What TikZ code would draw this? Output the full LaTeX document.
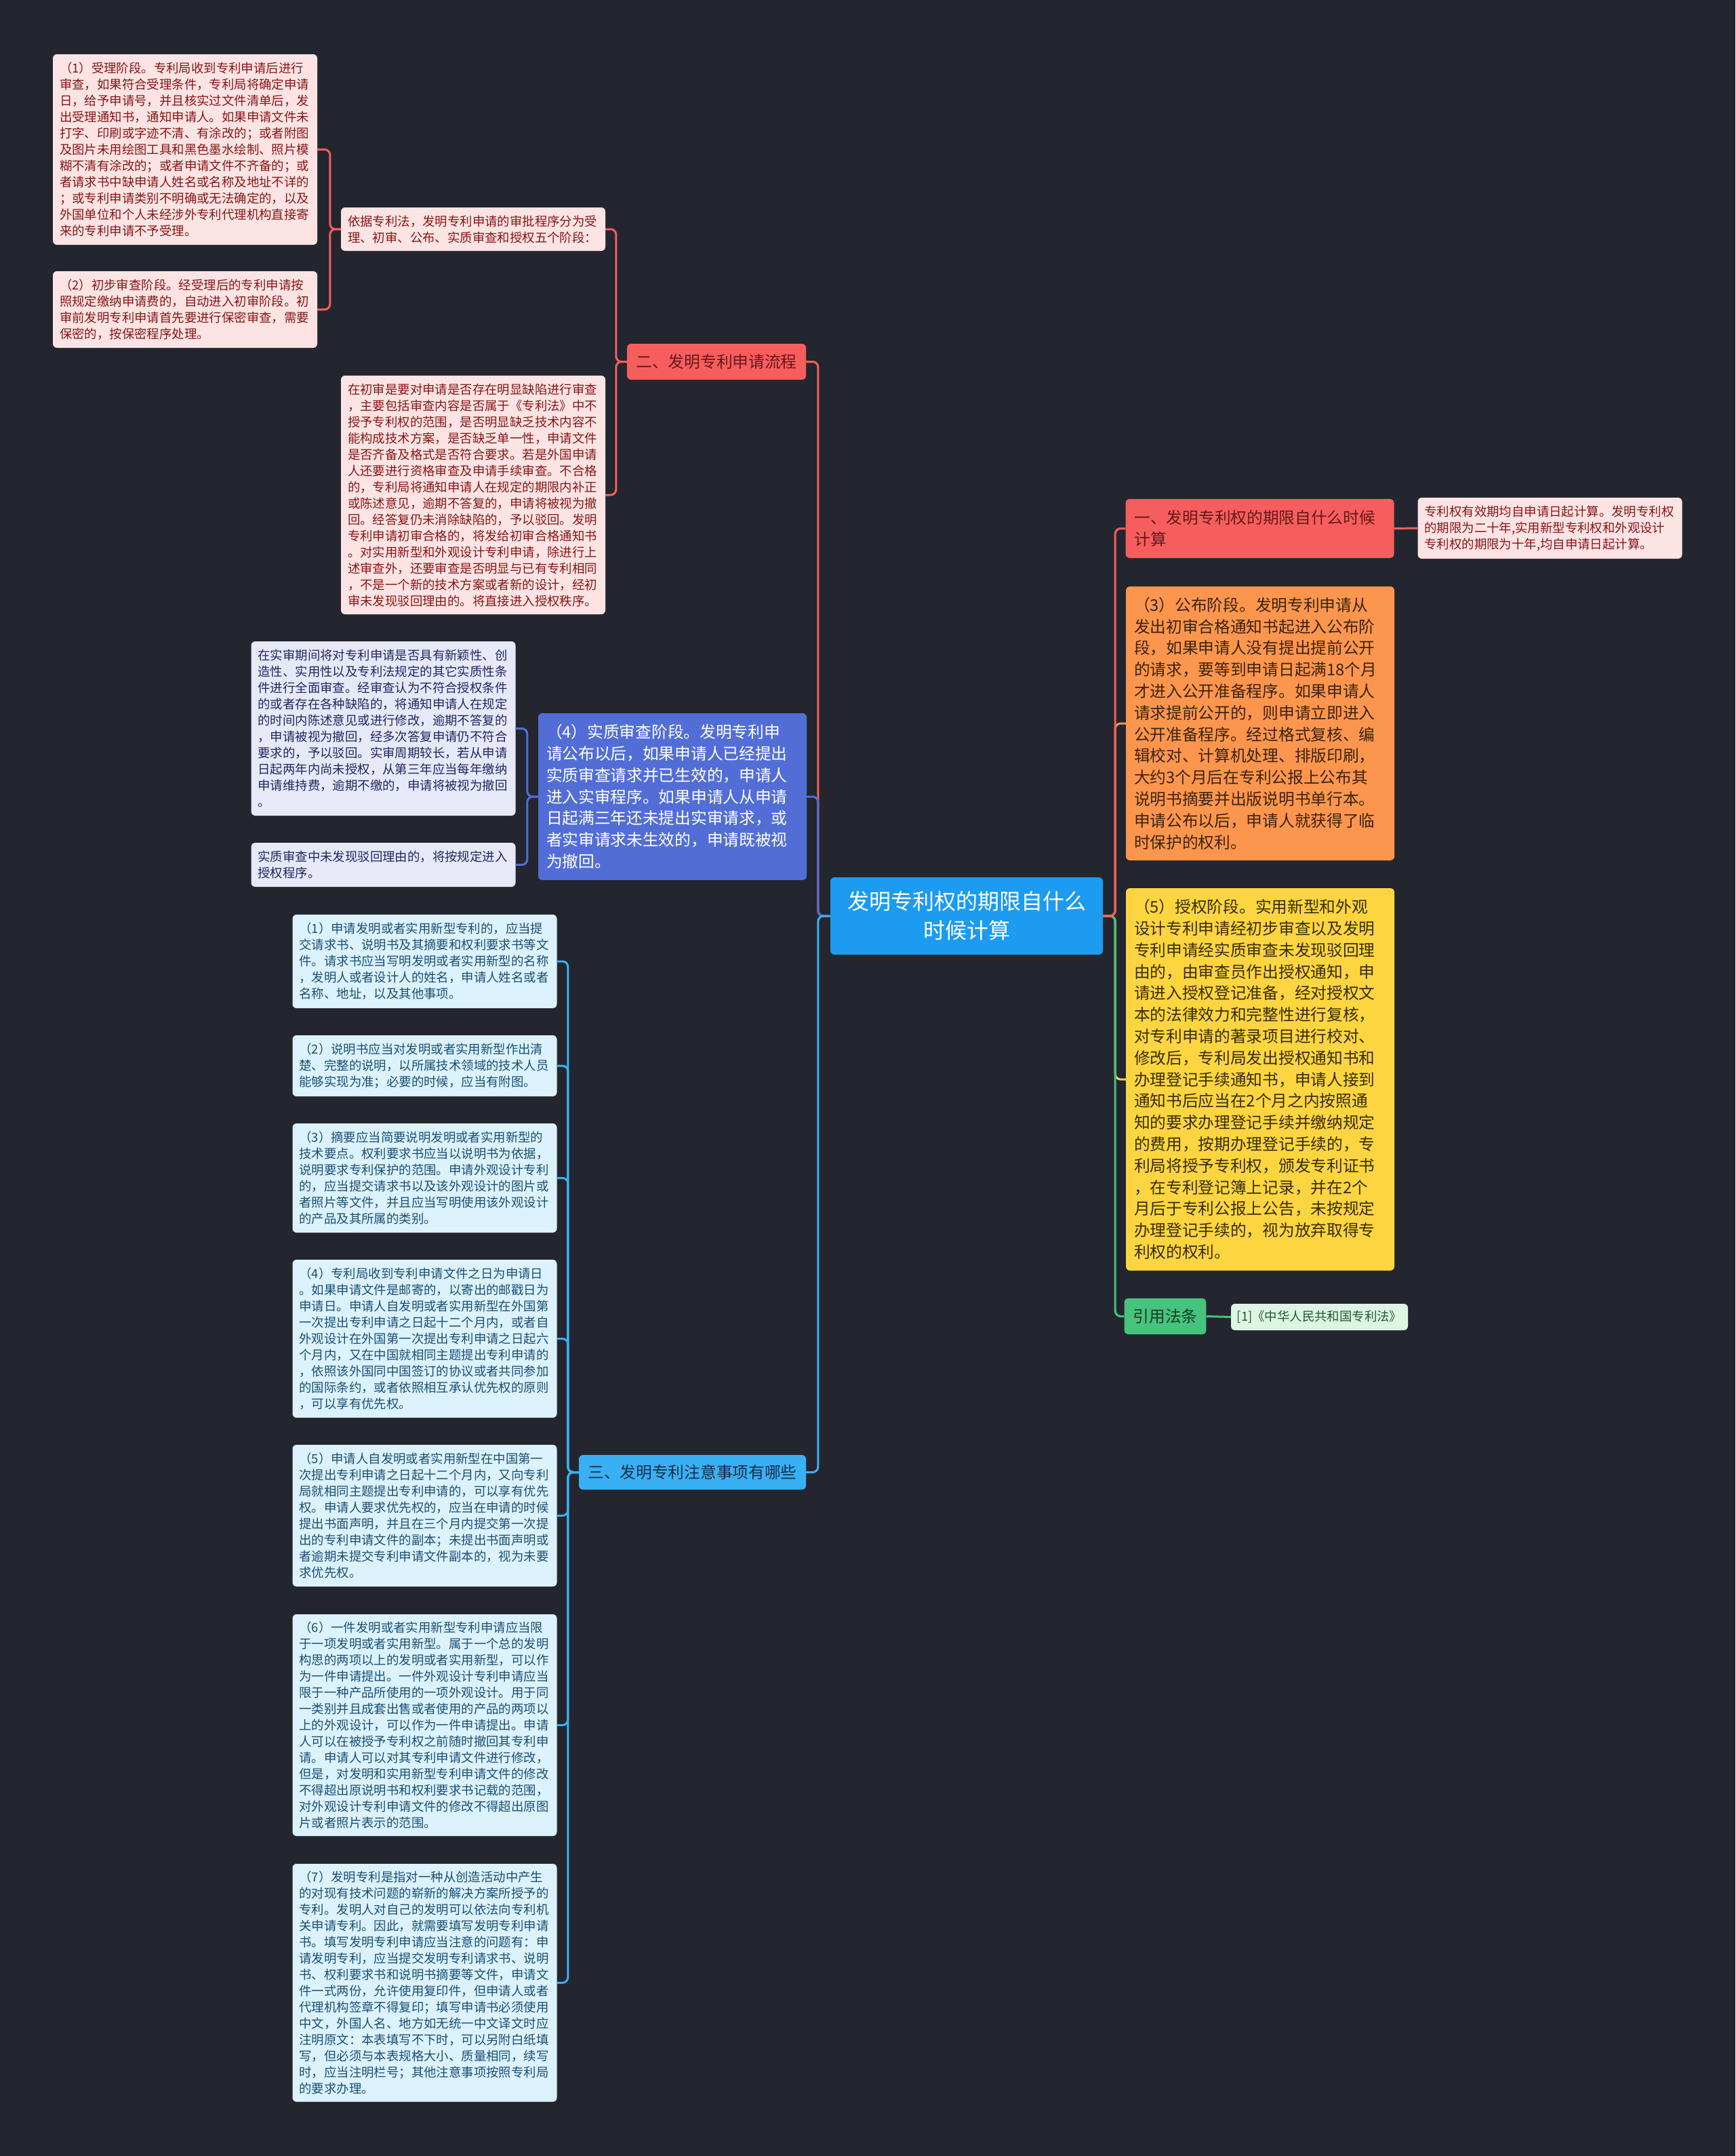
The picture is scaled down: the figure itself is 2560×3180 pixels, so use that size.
\documentclass[tikz,border=0pt]{standalone}
\usepackage{fontspec}
\setmainfont{Noto Sans CJK SC}
\usepackage{tikz}
\usetikzlibrary{positioning}
\definecolor{bgdark}{RGB}{35,38,47}
\definecolor{cmain}{RGB}{28,155,240}
\definecolor{cred}{RGB}{246,94,94}
\definecolor{credhead}{RGB}{100,25,25}
\definecolor{credleaf}{RGB}{253,228,228}
\definecolor{credtxt}{RGB}{135,22,22}
\definecolor{corange}{RGB}{252,150,78}
\definecolor{coratxt}{RGB}{60,35,12}
\definecolor{cyellow}{RGB}{253,213,65}
\definecolor{cyeltxt}{RGB}{55,45,0}
\definecolor{cgreen}{RGB}{70,195,125}
\definecolor{cgrntxt}{RGB}{20,60,35}
\definecolor{cgrnleaf}{RGB}{222,245,228}
\definecolor{cgrnleaftxt}{RGB}{30,90,50}
\definecolor{cblue}{RGB}{82,110,214}
\definecolor{cblueleaf}{RGB}{231,233,248}
\definecolor{cbluetxt}{RGB}{30,40,95}
\definecolor{csky}{RGB}{56,176,243}
\definecolor{cskytxt}{RGB}{20,45,75}
\definecolor{cskyleaf}{RGB}{220,242,253}
\definecolor{cskyleaftxt}{RGB}{25,80,115}
\tikzset{
  box/.style={rounded corners=6pt, align=left, inner ysep=0pt},
  leafbox/.style={box, text width=370pt, inner xsep=10pt, font=\fontsize{18.4}{24}\selectfont},
  bigbox/.style={box, text width=372pt, inner xsep=12pt, font=\fontsize{23.7}{31.8}\selectfont},
  headbox/.style={box, inner xsep=13pt, font=\fontsize{23.7}{31.8}\selectfont},
  link/.style={line width=3pt, rounded corners=8pt},
  redleaf/.style={leafbox, fill=credleaf, text=credtxt},
  blueleaf/.style={leafbox, fill=cblueleaf, text=cbluetxt},
  skyleaf/.style={leafbox, fill=cskyleaf, text=cskyleaftxt},
}

\begin{document}
\begin{tikzpicture}[x=1pt, y=-1pt]
  \useasboundingbox (0,0) rectangle (2560,3180);
  \fill[bgdark] (0,0) rectangle (2560,3180);
  % root
  \node[box, fill=cmain, text=white, align=center, minimum width=402, minimum height=114,
    font=\fontsize{32}{43}\selectfont] (ctr) at (1426,1351) {发明专利权的期限自什么\\时候计算};
  % branch: 二、发明专利申请流程
  \node[headbox, fill=cred, text=credhead, minimum width=264, minimum height=53] (apply) at (1057,533.5) {二、发明专利申请流程};
  \node[redleaf, minimum height=64] (stages) at (698,338)
    {依据专利法，发明专利申请的审批程序分为受\\理、初审、公布、实质审查和授权五个阶段：};
  \node[redleaf, minimum height=281] (accept) at (273,220.5)
    {（1）受理阶段。专利局收到专利申请后进行\\审查，如果符合受理条件，专利局将确定申请\\日，给予申请号，并且核实过文件清单后，发\\出受理通知书，通知申请人。如果申请文件未\\打字、印刷或字迹不清、有涂改的；或者附图\\及图片未用绘图工具和黑色墨水绘制、照片模\\糊不清有涂改的；或者申请文件不齐备的；或\\者请求书中缺申请人姓名或名称及地址不详的\\；或专利申请类别不明确或无法确定的，以及\\外国单位和个人未经涉外专利代理机构直接寄\\来的专利申请不予受理。};
  \node[redleaf, minimum height=113] (prelim) at (273,456.5)
    {（2）初步审查阶段。经受理后的专利申请按\\照规定缴纳申请费的，自动进入初审阶段。初\\审前发明专利申请首先要进行保密审查，需要\\保密的，按保密程序处理。};
  \node[redleaf, minimum height=352] (firstcheck) at (698,730)
    {在初审是要对申请是否存在明显缺陷进行审查\\，主要包括审查内容是否属于《专利法》中不\\授予专利权的范围，是否明显缺乏技术内容不\\能构成技术方案，是否缺乏单一性，申请文件\\是否齐备及格式是否符合要求。若是外国申请\\人还要进行资格审查及申请手续审查。不合格\\的，专利局将通知申请人在规定的期限内补正\\或陈述意见，逾期不答复的，申请将被视为撤\\回。经答复仍未消除缺陷的，予以驳回。发明\\专利申请初审合格的，将发给初审合格通知书\\。对实用新型和外观设计专利申请，除进行上\\述审查外，还要审查是否明显与已有专利相同\\，不是一个新的技术方案或者新的设计，经初\\审未发现驳回理由的。将直接进入授权秩序。};
  % branch: (4) substantive examination
  \node[bigbox, fill=cblue, text=white, minimum height=246] (subst) at (992,1175)
    {（4）实质审查阶段。发明专利申\\请公布以后，如果申请人已经提出\\实质审查请求并已生效的，申请人\\进入实审程序。如果申请人从申请\\日起满三年还未提出实审请求，或\\者实审请求未生效的，申请既被视\\为撤回。};
  \node[blueleaf, minimum height=257] (substlong) at (565.5,1074.5)
    {在实审期间将对专利申请是否具有新颖性、创\\造性、实用性以及专利法规定的其它实质性条\\件进行全面审查。经审查认为不符合授权条件\\的或者存在各种缺陷的，将通知申请人在规定\\的时间内陈述意见或进行修改，逾期不答复的\\，申请被视为撤回，经多次答复申请仍不符合\\要求的，予以驳回。实审周期较长，若从申请\\日起两年内尚未授权，从第三年应当每年缴纳\\申请维持费，逾期不缴的，申请将被视为撤回\\。};
  \node[blueleaf, minimum height=65] (substok) at (565.5,1275.5)
    {实质审查中未发现驳回理由的，将按规定进入\\授权程序。};
  % branch: 三、发明专利注意事项有哪些
  \node[headbox, fill=csky, text=cskytxt, minimum width=335, minimum height=51] (notes) at (1021.5,2171.5) {三、发明专利注意事项有哪些};
  \node[skyleaf, minimum height=138] (note1) at (626.5,1418)
    {（1）申请发明或者实用新型专利的，应当提\\交请求书、说明书及其摘要和权利要求书等文\\件。请求书应当写明发明或者实用新型的名称\\，发明人或者设计人的姓名，申请人姓名或者\\名称、地址，以及其他事项。};
  \node[skyleaf, minimum height=90] (note2) at (626.5,1572)
    {（2）说明书应当对发明或者实用新型作出清\\楚、完整的说明，以所属技术领域的技术人员\\能够实现为准；必要的时候，应当有附图。};
  \node[skyleaf, minimum height=161] (note3) at (626.5,1737.5)
    {（3）摘要应当简要说明发明或者实用新型的\\技术要点。权利要求书应当以说明书为依据，\\说明要求专利保护的范围。申请外观设计专利\\的，应当提交请求书以及该外观设计的图片或\\者照片等文件，并且应当写明使用该外观设计\\的产品及其所属的类别。};
  \node[skyleaf, minimum height=233] (note4) at (626.5,1974.5)
    {（4）专利局收到专利申请文件之日为申请日\\。如果申请文件是邮寄的，以寄出的邮戳日为\\申请日。申请人自发明或者实用新型在外国第\\一次提出专利申请之日起十二个月内，或者自\\外观设计在外国第一次提出专利申请之日起六\\个月内，又在中国就相同主题提出专利申请的\\，依照该外国同中国签订的协议或者共同参加\\的国际条约，或者依照相互承认优先权的原则\\，可以享有优先权。};
  \node[skyleaf, minimum height=209] (note5) at (626.5,2235.5)
    {（5）申请人自发明或者实用新型在中国第一\\次提出专利申请之日起十二个月内，又向专利\\局就相同主题提出专利申请的，可以享有优先\\权。申请人要求优先权的，应当在申请的时候\\提出书面声明，并且在三个月内提交第一次提\\出的专利申请文件的副本；未提出书面声明或\\者逾期未提交专利申请文件副本的，视为未要\\求优先权。};
  \node[skyleaf, minimum height=327] (note6) at (626.5,2544.5)
    {（6）一件发明或者实用新型专利申请应当限\\于一项发明或者实用新型。属于一个总的发明\\构思的两项以上的发明或者实用新型，可以作\\为一件申请提出。一件外观设计专利申请应当\\限于一种产品所使用的一项外观设计。用于同\\一类别并且成套出售或者使用的产品的两项以\\上的外观设计，可以作为一件申请提出。申请\\人可以在被授予专利权之前随时撤回其专利申\\请。申请人可以对其专利申请文件进行修改，\\但是，对发明和实用新型专利申请文件的修改\\不得超出原说明书和权利要求书记载的范围，\\对外观设计专利申请文件的修改不得超出原图\\片或者照片表示的范围。};
  \node[skyleaf, minimum height=351] (note7) at (626.5,2924.5)
    {（7）发明专利是指对一种从创造活动中产生\\的对现有技术问题的崭新的解决方案所授予的\\专利。发明人对自己的发明可以依法向专利机\\关申请专利。因此，就需要填写发明专利申请\\书。填写发明专利申请应当注意的问题有：申\\请发明专利，应当提交发明专利请求书、说明\\书、权利要求书和说明书摘要等文件，申请文\\件一式两份，允许使用复印件，但申请人或者\\代理机构签章不得复印；填写申请书必须使用\\中文，外国人名、地方如无统一中文译文时应\\注明原文：本表填写不下时，可以另附白纸填\\写，但必须与本表规格大小、质量相同，续写\\时，应当注明栏号；其他注意事项按照专利局\\的要求办理。};
  % right side
  \node[headbox, text width=370pt, fill=cred, text=credhead, minimum height=87] (term) at (1858.5,779.5)
    {一、发明专利权的期限自什么时候\\计算};
  \node[redleaf, minimum height=90] (termleaf) at (2286.5,779)
    {专利权有效期均自申请日起计算。发明专利权\\的期限为二十年,实用新型专利权和外观设计\\专利权的期限为十年,均自申请日起计算。};
  \node[bigbox, fill=corange, text=coratxt, minimum height=404] (publish) at (1859,1067)
    {（3）公布阶段。发明专利申请从\\发出初审合格通知书起进入公布阶\\段，如果申请人没有提出提前公开\\的请求，要等到申请日起满18个月\\才进入公开准备程序。如果申请人\\请求提前公开的，则申请立即进入\\公开准备程序。经过格式复核、编\\辑校对、计算机处理、排版印刷，\\大约3个月后在专利公报上公布其\\说明书摘要并出版说明书单行本。\\申请公布以后，申请人就获得了临\\时保护的权利。};
  \node[bigbox, fill=cyellow, text=cyeltxt, minimum height=564] (grant) at (1859,1592)
    {（5）授权阶段。实用新型和外观\\设计专利申请经初步审查以及发明\\专利申请经实质审查未发现驳回理\\由的，由审查员作出授权通知，申\\请进入授权登记准备，经对授权文\\本的法律效力和完整性进行复核，\\对专利申请的著录项目进行校对、\\修改后，专利局发出授权通知书和\\办理登记手续通知书，申请人接到\\通知书后应当在2个月之内按照通\\知的要求办理登记手续并缴纳规定\\的费用，按期办理登记手续的，专\\利局将授予专利权，颁发专利证书\\，在专利登记簿上记录，并在2个\\月后于专利公报上公告，未按规定\\办理登记手续的，视为放弃取得专\\利权的权利。};
  \node[headbox, fill=cgreen, text=cgrntxt, minimum width=120, minimum height=53] (law) at (1719,1941.5) {引用法条};
  \node[box, fill=cgrnleaf, text=cgrnleaftxt, inner xsep=6pt, minimum width=261, minimum height=39,
    font=\fontsize{18.4}{24}\selectfont] (lawleaf) at (1946.5,1942.5) {[1]《中华人民共和国专利法》};
  % connectors, left side
  \draw[link, cred] (ctr.west) -- ++(-18,0) |- (apply.east);
  \draw[link, cblue] (ctr.west) -- ++(-18,0) |- (subst.east);
  \draw[link, csky] (ctr.west) -- ++(-18,0) |- (notes.east);
  \foreach \c in {stages,firstcheck}{
    \draw[link, cred] (apply.west) -- ++(-16,0) |- (\c.east);
  }
  \foreach \c in {accept,prelim}{
    \draw[link, cred] (stages.west) -- ++(-16,0) |- (\c.east);
  }
  \foreach \c in {substlong,substok}{
    \draw[link, cblue] (subst.west) -- ++(-16,0) |- (\c.east);
  }
  \foreach \c in {note1,note2,note3,note4,note5,note6,note7}{
    \draw[link, csky] (notes.west) -- ++(-16,0) |- (\c.east);
  }
  % connectors, right side
  \draw[link, cyellow] (ctr.east) -- ++(18,0) |- (grant.west);
  \draw[link, cgreen] (ctr.east) -- ++(18,0) |- (law.west);
  \draw[link, corange] (ctr.east) -- ++(18,0) |- (publish.west);
  \draw[link, cred] (ctr.east) -- ++(18,0) |- (term.west);
  \draw[link, cred] (term.east) -- (termleaf.west);
  \draw[link, cgreen] (law.east) -- (lawleaf.west);
\end{tikzpicture}
\end{document}
